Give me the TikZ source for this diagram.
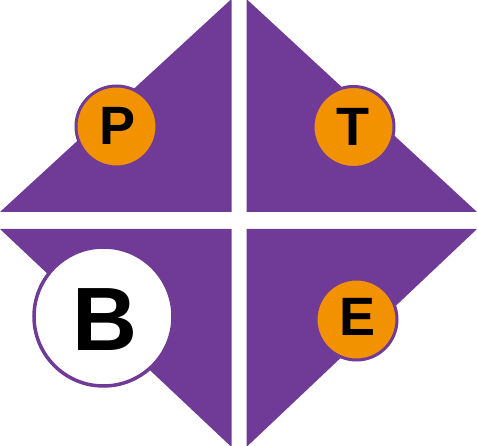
\documentclass[tikz,border=0pt]{standalone}
\usepackage{fontspec}
\setmainfont{Liberation Sans}
\definecolor{pur}{HTML}{6F3B97}
\definecolor{org}{HTML}{F39200}
\begin{document}
\begin{tikzpicture}[x=1pt,y=-1pt,
  tri/.style={fill=pur,draw=none},
  smallc/.style={circle,fill=org,draw=pur,line width=3pt,minimum size=81pt,inner sep=0pt},
  bigc/.style={circle,fill=white,draw=pur,line width=3.5pt,minimum size=139pt,inner sep=0pt},
  lett/.style={inner sep=0pt,font=\bfseries\fontsize{54}{54}\selectfont}]
\useasboundingbox (0,0) rectangle (477,446);
\fill[white] (0,0) rectangle (477,446);
\fill[tri] (0,212) -- (231.5,-1) -- (231.5,212) -- cycle;
\fill[tri] (246.5,-1) -- (477,212) -- (246.5,212) -- cycle;
\fill[tri] (0,229) -- (231.5,229) -- (231.5,447) -- cycle;
\fill[tri] (246.5,229) -- (477,229) -- (246.5,447) -- cycle;
\node[smallc] (cp) at (116.5,126.5) {};
\node[smallc] (ct) at (353.5,127) {};
\node[smallc] (ce) at (356.5,319.5) {};
\node[bigc] (cb) at (103.5,316.5) {};
\node[lett] (tp) at (118,126) {P};
\node[lett] (tt) at (353,127) {T};
\node[lett] (te) at (358,316.5) {E};
\node[lett,font=\bfseries\fontsize{90}{90}\selectfont] (tb) at (105,319.5) {B};
\end{tikzpicture}
\end{document}
